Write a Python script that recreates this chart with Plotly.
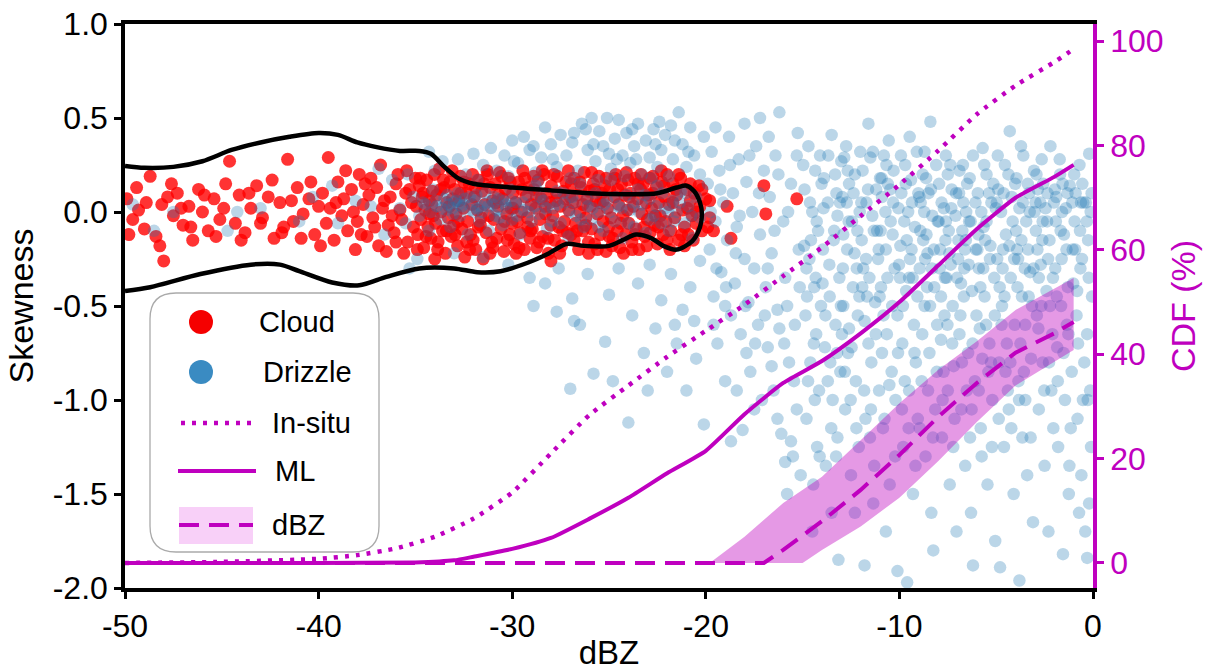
import plotly.graph_objects as go

# ---------------- data ----------------
cloud_pts = [
(-49.9,0.07),(-49.6,-0.04),(-49.3,0.01),(-49.0,-0.09),(-48.7,0.19),(-48.4,-0.13),(-48.1,0.04),(-48.0,-0.26),(-47.8,0.08),(-47.5,-0.02),(-47.3,0.1),(-47.0,-0.07),(-46.7,0.03),(-46.5,-0.15),(-46.2,0.12),(-46.0,0.0),(-45.7,-0.1),(-45.4,0.07),(-45.1,-0.04),(-44.8,0.15),(-44.6,0.27),(-44.3,-0.06),(-44.1,0.09),(-43.8,-0.11),(-43.5,0.02),(-43.2,0.14),(-42.9,-0.03),(-42.6,0.08),(-42.3,-0.14),(-42.0,0.05),(-41.8,-0.08),(-41.6,0.28),(-41.3,-0.05),(-41.1,0.13),(-40.8,-0.01),(-40.5,0.07),(-40.2,-0.12),(-40.0,0.03),
(-49.8,-0.12),(-49.4,0.13),(-48.9,0.05),(-48.2,-0.18),(-47.6,0.15),(-47.1,0.02),(-46.6,-0.08),(-45.9,0.09),(-45.3,-0.13),(-44.9,0.02),(-44.0,-0.15),(-43.6,0.1),(-43.0,-0.06),(-42.4,0.17),(-41.9,-0.11),(-41.4,0.06),(-40.9,-0.14),(-40.4,0.16),
(-39.8,0.1),(-39.6,-0.06),(-39.5,0.29),(-39.4,0.02),(-39.2,-0.15),(-39.0,0.16),(-38.8,-0.02),(-38.7,0.07),(-38.5,-0.1),(-38.3,0.12),(-38.2,0.0),(-38.0,-0.05),(-37.9,0.2),(-37.7,0.04),(-37.5,-0.13),(-37.4,0.09),(-37.2,-0.03),(-37.0,0.13),(-36.9,-0.18),(-36.7,0.02),(-36.5,-0.21),(-36.4,-0.07),(-36.3,0.08),(-36.1,-0.11),(-36.0,0.15),(-35.8,0.01),(-35.7,-0.04),(-35.5,0.1),(-35.4,-0.16),(-35.2,0.05),(-35.1,-0.08),(-35.0,0.18),
(-39.9,-0.18),(-39.1,0.05),(-38.6,0.22),(-38.1,-0.2),(-37.6,0.15),(-37.1,-0.08),(-36.8,0.25),(-36.2,-0.02),(-35.9,0.2),(-35.6,-0.22),(-35.3,0.12),
(-34.95,0.03),(-34.88,-0.12),(-34.8,0.14),(-34.72,-0.04),(-34.65,0.08),(-34.57,-0.19),(-34.5,0.01),(-34.42,0.17),(-34.35,-0.08),(-34.28,0.06),(-34.2,-0.14),(-34.13,0.11),(-34.07,-0.02),(-34.02,0.2),
(-33.96,-0.06),(-33.9,0.09),(-33.83,-0.16),(-33.76,0.23),(-33.68,0.0),(-33.6,-0.1),(-33.52,0.13),(-33.45,-0.22),(-33.38,0.05),(-33.3,-0.03),(-33.22,0.16),(-33.15,-0.13),(-33.08,0.07),(-33.02,-0.07),
(-32.97,0.12),(-32.9,-0.01),(-32.82,-0.18),(-32.75,0.06),(-32.67,0.19),(-32.6,-0.09),(-32.52,0.02),(-32.45,-0.24),(-32.37,0.1),(-32.3,-0.05),(-32.22,0.15),(-32.15,-0.12),(-32.08,0.04),(-32.02,-0.15),
(-31.96,0.08),(-31.88,-0.2),(-31.8,0.01),(-31.73,0.17),(-31.65,-0.07),(-31.57,0.11),(-31.5,-0.25),(-31.42,0.04),(-31.35,-0.11),(-31.27,0.2),(-31.2,-0.02),(-31.13,0.13),(-31.06,-0.16),(-31.01,0.06),
(-30.95,-0.04),(-30.88,0.15),(-30.8,-0.14),(-30.73,0.03),(-30.65,0.21),(-30.57,-0.09),(-30.5,0.07),(-30.43,-0.21),(-30.35,0.12),(-30.28,-0.01),(-30.2,0.18),(-30.13,-0.12),(-30.06,0.02),(-30.01,-0.06),
(-29.97,0.1),(-29.9,-0.17),(-29.82,0.05),(-29.74,-0.05),(-29.67,0.16),(-29.6,-0.11),(-29.52,0.0),(-29.45,0.22),(-29.37,-0.2),(-29.3,0.08),(-29.22,-0.03),(-29.15,0.13),(-29.08,-0.14),(-29.02,0.04),
(-28.96,-0.09),(-28.88,0.12),(-28.8,0.02),(-28.73,-0.19),(-28.65,0.17),(-28.57,-0.04),(-28.5,0.07),(-28.43,-0.13),(-28.35,0.2),(-28.28,-0.01),(-28.2,0.1),(-28.13,-0.22),(-28.06,0.05),(-28.01,-0.07),
(-27.97,0.14),(-27.9,-0.02),(-27.82,-0.15),(-27.74,0.06),(-27.67,0.19),(-27.6,-0.08),(-27.52,0.03),(-27.45,-0.18),(-27.37,0.11),(-27.3,-0.05),(-27.22,0.16),(-27.15,-0.11),(-27.08,0.01),(-27.02,0.08),
(-26.96,-0.12),(-26.88,0.05),(-26.8,0.18),(-26.73,-0.06),(-26.65,0.09),(-26.57,-0.2),(-26.5,0.0),(-26.43,0.13),(-26.35,-0.1),(-26.28,0.21),(-26.2,-0.03),(-26.13,0.07),(-26.06,-0.16),(-26.01,0.11),
(-25.97,0.03),(-25.9,-0.09),(-25.82,0.15),(-25.74,-0.17),(-25.67,0.06),(-25.6,-0.01),(-25.52,0.19),(-25.45,-0.12),(-25.37,0.1),(-25.3,-0.05),(-25.22,0.14),(-25.15,-0.21),(-25.08,0.02),(-25.02,-0.08),
(-24.96,0.12),(-24.88,-0.03),(-24.8,-0.14),(-24.73,0.08),(-24.65,0.2),(-24.57,-0.1),(-24.5,0.04),(-24.43,-0.19),(-24.35,0.15),(-24.28,-0.02),(-24.2,0.09),(-24.13,-0.12),(-24.06,0.01),(-24.01,0.17),
(-23.97,-0.06),(-23.9,0.1),(-23.82,-0.16),(-23.74,0.03),(-23.67,0.18),(-23.6,-0.09),(-23.52,0.07),(-23.45,-0.2),(-23.37,0.12),(-23.3,-0.01),(-23.22,0.15),(-23.15,-0.13),(-23.08,0.05),(-23.02,-0.04),
(-22.96,0.09),(-22.88,-0.11),(-22.8,0.02),(-22.73,0.19),(-22.65,-0.07),(-22.57,0.13),(-22.5,-0.17),(-22.43,0.05),(-22.35,-0.02),(-22.28,0.16),(-22.2,-0.12),(-22.13,0.08),(-22.06,-0.05),(-22.01,0.2),
(-34.9,-0.2),(-34.6,0.1),(-34.3,-0.01),(-34.0,-0.25),(-33.7,0.12),(-33.4,-0.1),(-33.1,0.22),(-32.8,-0.05),(-32.5,0.16),(-32.2,-0.2),(-31.9,0.13),(-31.6,-0.03),(-31.3,0.22),(-31.0,-0.19),(-30.7,0.09),(-30.4,-0.05),(-30.1,0.16),(-29.8,-0.22),(-29.5,0.12),(-29.2,-0.08),(-28.9,0.19),(-28.6,-0.16),(-28.3,0.03),(-28.0,-0.26),(-27.7,0.1),(-27.4,-0.1),(-27.1,0.22),(-26.8,-0.15),(-26.5,0.16),(-26.2,-0.07),(-25.9,0.21),(-25.6,-0.2),(-25.3,0.06),(-25.0,-0.13),(-24.7,0.18),(-24.4,-0.06),(-24.1,0.21),(-23.8,-0.2),(-23.5,0.15),(-23.2,-0.08),(-22.9,0.18),(-22.6,-0.02),(-22.3,0.22),(-22.0,-0.15),
(-37.8,-0.12),(-37.3,0.18),(-36.6,0.06),(-36.0,-0.16),(-35.45,0.22),(-34.75,0.18),(-34.45,-0.13),(-34.15,0.04),(-33.85,-0.2),(-33.55,0.17),(-33.25,0.03),(-32.95,-0.12),(-32.65,0.1),(-32.35,-0.16),(-32.05,0.2),(-31.75,-0.08),(-31.45,0.15),(-31.15,-0.22),(-30.85,0.05),(-30.55,0.19),(-30.25,-0.15),(-29.95,0.02),(-29.65,-0.19),(-29.35,0.18),(-29.05,-0.1),(-28.75,0.08),(-28.45,0.22),(-28.15,-0.14),(-27.85,0.2),(-27.55,-0.22),(-27.25,0.07),(-26.95,0.15),(-26.65,-0.1),(-26.35,0.04),(-26.05,-0.22),(-25.75,0.12),(-25.45,0.05),(-25.15,0.18),(-24.85,-0.18),(-24.55,0.12),(-24.25,-0.22),(-23.95,0.08),(-23.65,-0.12),(-23.35,0.2),(-23.05,-0.18),(-22.75,0.1),(-22.45,-0.08),(-22.15,0.14),(-21.85,-0.2),(-21.55,0.12),(-21.25,-0.12),(-20.95,0.02),(-20.65,-0.15),(-20.35,0.14),
(-21.9,0.04),(-21.8,-0.1),(-21.7,0.15),(-21.6,-0.03),(-21.5,0.09),(-21.4,-0.15),(-21.3,0.18),(-21.2,0.01),(-21.1,-0.08),(-21.0,0.12),(-20.9,-0.12),(-20.8,0.06),(-20.7,-0.02),(-20.6,0.1),(-20.5,-0.06),(-20.3,0.03),(-20.2,-0.1),(-20.0,0.07),(-19.8,-0.03),
(-21.7,0.05),(-21.4,0.2),(-21.1,-0.18),(-20.8,0.15),(-20.5,0.0),(-20.2,0.12),(-19.9,-0.08),
(-19.6,-0.1),(-19.8,0.06),(-18.9,0.03),(-18.7,-0.14),(-17.0,0.14),(-16.9,-0.01),(-15.3,0.07),
]

drizzle_pts = [
(-49.6,0.04),(-47.5,0.0),(-48.5,-0.1),(-44.7,-0.1),(-44.2,0.0),(-41.0,-0.05),(-39.3,0.14),(-43.0,0.02),(-40.3,0.08),(-39.0,-0.06),(-38.1,0.06),(-37.3,0.03),(-36.6,-0.12),(-36.2,0.17),
(-35.8,0.02),(-35.5,-0.06),(-35.1,0.08),(-34.8,-0.02),(-34.6,0.05),(-34.3,-0.1),(-34.1,0.12),
(-33.9,0.03),(-33.7,-0.04),(-33.5,0.07),(-33.4,0.01),(-33.2,-0.08),(-33.0,0.05),(-32.8,0.1),(-32.7,-0.02),(-32.5,0.04),(-32.3,-0.12),(-32.2,0.08),(-32.0,0.0),
(-31.9,0.06),(-31.7,-0.05),(-31.6,0.03),(-31.4,0.1),(-31.2,-0.1),(-31.0,0.04),(-30.9,-0.02),(-30.7,0.07),(-30.5,-0.07),(-30.3,0.02),(-30.1,0.12),(-30.0,-0.04),
(-33.3,0.04),(-33.1,0.02),(-32.9,0.06),(-32.6,0.03),(-31.8,0.02),(-31.3,0.05),(-30.8,0.01),(-30.4,0.06),
(-29.8,0.05),(-29.6,-0.12),(-29.4,0.01),(-29.2,0.09),(-29.0,-0.05),(-28.8,0.14),(-28.6,-0.01),(-28.4,0.06),(-28.2,-0.09),
(-27.9,0.02),(-27.7,0.11),(-27.5,-0.06),(-27.3,0.05),(-27.1,-0.13),(-26.9,0.08),(-26.7,-0.02),(-26.5,0.15),(-26.3,-0.08),(-26.1,0.03),
(-25.9,-0.04),(-25.7,0.1),(-25.5,0.0),(-25.3,-0.1),(-25.1,0.06),(-24.9,0.17),(-24.7,-0.05),(-24.5,0.03),(-24.3,-0.14),(-24.1,0.09),
(-23.9,0.01),(-23.7,-0.08),(-23.5,0.12),(-23.3,0.04),(-23.1,-0.11),(-22.9,0.07),(-22.7,-0.02),(-22.5,0.14),(-22.3,-0.06),(-22.1,0.02),
(-21.9,-0.1),(-21.7,0.06),(-21.5,0.0),(-21.3,0.11),(-21.1,-0.06),(-20.9,0.03),(-20.7,-0.14),(-20.5,0.08),(-20.3,-0.03),
(-34.5,0.04),(-34.2,0.0),(-33.95,0.06),(-33.65,0.02),(-33.35,0.09),(-33.05,-0.01),(-32.75,0.04),(-32.45,0.07),(-32.15,0.01),(-31.85,0.09),(-31.55,0.0),(-31.25,0.03),(-30.95,0.08),(-30.65,-0.03),(-30.35,0.04),(-30.05,0.06),(-29.75,-0.02),(-29.45,0.05),(-29.15,0.0),(-28.85,0.03),(-28.55,0.08),(-28.25,0.02),(-27.95,-0.05),(-27.65,0.04),(-27.35,0.1),(-27.05,0.0),(-26.75,0.05),(-26.45,-0.04),(-26.15,0.07),(-25.85,0.02),(-25.55,-0.08),(-25.25,0.04),(-24.95,0.0),(-24.65,0.08),(-24.35,0.02),(-24.05,-0.06),(-23.75,0.05),(-23.45,0.0),(-23.15,0.09),(-22.85,-0.04),(-22.55,0.03),(-22.25,0.1),(-21.95,0.0),(-21.65,-0.05),(-21.35,0.05),(-21.05,0.1),(-20.75,-0.02),
(-36.9,0.23),(-35.4,0.2),(-34.3,0.32),(-34.0,0.22),(-33.6,0.27),(-32.8,0.28),(-32.4,0.2),(-32.0,0.31),(-31.5,0.25),(-31.1,0.34),(-30.8,0.22),(-30.4,0.3),(-30.0,0.38),(-29.7,0.26),(-29.4,0.4),(-29.1,0.33),(-28.8,0.21),(-28.5,0.29),(-28.3,0.45),(-28.0,0.36),(-27.7,0.24),(-27.5,0.41),(-27.2,0.3),(-26.9,0.37),(-26.6,0.22),(-26.4,0.47),(-26.1,0.33),(-25.9,0.5),(-25.7,0.27),(-25.5,0.43),(-25.3,0.35),(-25.1,0.5),(-24.9,0.23),(-24.7,0.39),(-24.5,0.49),(-24.3,0.3),(-24.1,0.42),(-23.9,0.26),(-23.7,0.35),(-23.5,0.47),(-23.3,0.2),(-23.1,0.38),(-22.9,0.29),(-22.7,0.44),(-22.5,0.24),(-22.3,0.33),(-22.1,0.41),(-21.9,0.19),(-21.7,0.28),(-21.4,0.53),(-21.2,0.36),(-21.0,0.24),(-20.8,0.45),(-20.6,0.3),(-20.3,0.2),(-20.1,0.4),
(-31.8,0.17),(-30.2,0.19),(-28.7,0.16),(-27.0,0.18),(-25.6,0.17),(-24.2,0.19),(-22.8,0.18),(-26.2,0.44),(-25.0,0.31),(-23.6,0.28),(-22.4,0.48),(-21.6,0.38),
(-29.9,0.27),(-28.9,0.35),(-27.9,0.28),(-26.8,0.42),(-25.8,0.36),(-24.6,0.28),(-23.8,0.44),(-22.6,0.36),(-21.8,0.46),(-20.9,0.32),
(-34.9,-0.25),(-35.3,-0.3),(-33.0,-0.22),(-31.5,-0.24),(-30.2,-0.28),(-29.1,-0.35),(-28.3,-0.38),(-27.7,-0.53),(-27.6,-0.3),(-26.9,-0.46),(-26.1,-0.33),(-26.5,-0.6),(-25.8,-0.86),(-25.0,-0.44),(-25.2,-0.69),(-24.8,-0.9),(-24.5,-0.3),(-24.0,-1.12),(-23.8,-0.55),(-23.5,-0.38),(-23.2,-0.75),(-22.9,-0.28),(-22.6,-0.62),(-22.3,-0.47),(-22.0,-0.85),(-21.8,-0.33),(-21.5,-0.7),(-21.2,-0.52),(-21.0,-0.95),(-20.8,-0.4),(-20.5,-0.78),(-20.3,-0.26),(-20.1,-1.13),(-27.0,-0.94),(-26.8,-0.58),(-28.9,-0.5),(-23.0,-0.95),(-21.6,-0.6),(-20.6,-0.58),
(-19.9,0.15),(-19.8,-0.2),(-19.7,0.32),(-19.6,-0.45),(-19.5,-0.05),(-19.4,-0.7),(-19.3,0.22),(-19.2,-0.32),(-19.1,0.05),(-19.0,-0.9),(-18.9,-0.15),(-18.8,0.4),(-18.7,-0.55),(-18.7,-1.22),(-18.6,0.1),(-18.5,-0.38),(-18.4,-0.08),(-18.3,0.28),(-18.2,-0.65),(-18.1,-1.16),(-18.0,-0.25),(-17.9,0.16),(-17.8,-0.48),(-17.7,-0.85),(-17.6,0.0),(-17.5,-0.3),(-17.4,0.35),(-17.3,-0.6),(-17.2,-0.12),(-17.1,-1.0),(-17.0,0.22),(-16.9,-0.4),(-16.8,-0.72),(-16.7,0.08),(-16.6,-0.22),(-16.5,-0.95),(-16.4,0.3),(-16.3,-0.52),(-16.2,0.53),(-16.1,-1.18),(-16.0,-0.05),(-15.9,-0.35),(-15.8,-1.5),(-15.7,-0.8),(-15.6,0.15),(-15.5,-1.3),(-15.4,-0.6),(-15.3,-1.05),(-15.2,-0.2),(-15.1,-1.4),(-15.6,-1.22),(-15.9,-1.33),(-16.3,-1.1),(-19.5,0.45),(-18.0,0.47),(-17.2,0.5),(-19.0,-0.5),(-17.9,-0.75),(-16.6,-0.82),(-16.2,-0.62),(-19.6,-0.6),(-18.4,-0.95),(-17.5,-1.05),(-16.8,-0.3),(-15.8,-0.5),(-15.3,0.3),
(-19.75,0.0),(-19.25,0.12),(-18.75,0.25),(-18.25,-0.02),(-17.75,0.3),(-17.25,0.1),(-16.75,0.4),(-16.25,0.2),(-15.75,0.0),(-15.25,0.42),(-19.45,-0.3),(-18.95,-0.4),(-18.45,-0.22),(-17.95,-0.5),(-17.45,-0.7),(-16.95,-0.55),(-16.45,-0.1),(-15.95,-0.7),(-15.45,-0.9),(-15.15,-0.4),
(-14.9,0.12),(-14.85,-0.55),(-14.8,-1.1),(-14.7,0.35),(-14.65,-0.25),(-14.6,-0.8),(-14.5,0.0),(-14.45,-1.45),(-14.4,-0.4),(-14.35,0.22),(-14.3,-0.65),(-14.25,-1.25),(-14.2,-0.1),(-14.15,-0.95),(-14.1,0.3),(-14.05,-0.5),(-14.5,-1.7),(-14.8,-0.3),
(-13.95,-0.2),(-13.9,0.18),(-13.85,-0.72),(-13.8,-1.35),(-13.7,0.05),(-13.6,-0.45),(-13.5,0.41),(-13.45,-1.0),(-13.4,-0.15),(-13.3,-0.6),(-13.25,0.1),(-13.2,-1.2),(-13.1,-0.35),(-13.05,-0.85),(-13.0,0.27),(-13.5,-1.6),(-13.2,-0.02),(-13.7,-0.9),(-13.15,-1.85),
(-12.95,0.08),(-12.9,-0.5),(-12.85,0.29),(-12.8,-1.05),(-12.7,-0.2),(-12.65,-0.75),(-12.6,0.15),(-12.5,-1.4),(-12.45,-0.05),(-12.4,-0.4),(-12.3,0.2),(-12.25,-0.9),(-12.2,-0.3),(-12.1,-1.25),(-12.05,0.0),(-12.6,-0.62),(-12.3,-1.6),(-12.9,-0.12),(-12.15,-0.55),(-12.75,0.35),
(-11.95,-0.15),(-11.9,0.22),(-11.8,-0.58),(-11.8,-1.88),(-11.75,-1.1),(-11.7,0.05),(-11.6,0.47),(-11.55,-0.35),(-11.5,0.29),(-11.45,-0.8),(-11.4,-0.02),(-11.3,-1.35),(-11.25,-0.48),(-11.2,0.12),(-11.1,-0.25),(-11.05,-0.95),(-11.0,0.18),(-11.6,-0.7),(-11.35,-1.55),(-11.15,-0.1),
(-10.95,-0.4),(-10.9,0.08),(-10.85,-1.15),(-10.8,0.3),(-10.7,-0.2),(-10.65,-0.65),(-10.6,0.15),(-10.5,-1.45),(-10.45,-0.05),(-10.4,-0.85),(-10.3,0.22),(-10.25,-0.3),(-10.2,-1.0),(-10.1,-0.55),(-10.1,-1.91),(-10.05,0.02),(-10.7,-1.7),(-10.35,-0.12),(-10.9,-0.75),(-10.55,0.38),
(-9.95,-0.18),(-9.9,0.1),(-9.85,-0.7),(-9.8,-1.25),(-9.7,0.25),(-9.65,-0.42),(-9.6,-1.97),(-9.55,0.0),(-9.5,-0.95),(-9.45,-0.25),(-9.4,0.17),(-9.3,-1.5),(-9.25,-0.6),(-9.2,-0.08),(-9.1,0.32),(-9.05,-1.1),(-9.5,-0.35),(-9.15,-0.8),(-9.75,-0.05),(-9.35,0.05),
(-8.95,-0.3),(-8.9,0.05),(-8.85,-0.9),(-8.8,0.2),(-8.7,-0.5),(-8.65,-1.3),(-8.6,-0.12),(-8.5,0.1),(-8.45,-0.75),(-8.4,0.48),(-8.35,-1.6),(-8.3,-0.02),(-8.2,-0.4),(-8.15,-1.05),(-8.1,0.25),(-8.05,-0.6),(-8.7,0.32),(-8.55,-0.22),(-8.25,-1.8),(-8.95,-1.15),
(-7.95,0.15),(-7.9,-0.2),(-7.85,-0.68),(-7.8,-1.2),(-7.7,0.02),(-7.65,-0.35),(-7.6,0.3),(-7.5,-0.95),(-7.45,-0.1),(-7.4,-1.45),(-7.3,0.12),(-7.25,-0.5),(-7.2,-0.82),(-7.1,-0.02),(-7.05,-1.7),(-7.5,0.2),(-7.35,-0.28),(-7.15,-1.1),(-7.85,-0.45),(-7.6,-0.05),
(-6.95,-0.15),(-6.9,0.22),(-6.85,-0.55),(-6.8,-1.05),(-6.7,0.05),(-6.65,-0.3),(-6.6,-1.35),(-6.5,0.15),(-6.45,-0.75),(-6.4,-0.05),(-6.3,-1.6),(-6.25,-0.42),(-6.2,0.3),(-6.2,-1.88),(-6.1,-0.9),(-6.05,-0.2),(-6.75,-0.1),(-6.55,0.0),(-6.35,-1.2),(-6.9,-0.65),
(-5.95,0.1),(-5.9,-0.3),(-5.85,-0.62),(-5.8,-1.15),(-5.7,0.34),(-5.65,-0.08),(-5.6,-0.45),(-5.5,0.2),(-5.45,-1.45),(-5.4,-0.85),(-5.3,-0.18),(-5.25,0.05),(-5.2,-1.0),(-5.1,-0.35),(-5.05,-1.75),(-5.5,-0.05),(-5.35,-0.7),(-5.75,-1.3),(-5.15,0.15),(-5.9,-0.95),
(-4.95,-0.25),(-4.9,0.12),(-4.8,-1.89),(-4.85,-0.8),(-4.75,0.0),(-4.7,-0.5),(-4.6,-1.25),(-4.55,0.25),(-4.5,-0.12),(-4.45,-0.7),(-4.3,0.43),(-4.35,-1.05),(-4.25,-0.35),(-4.2,0.08),(-4.1,-1.5),(-4.05,-0.6),(-3.8,-1.96),(-4.65,-0.2),(-4.4,-0.95),(-4.15,-0.05),
(-3.95,0.18),(-3.9,-0.4),(-3.85,-0.9),(-3.8,0.02),(-3.7,-0.15),(-3.65,-1.2),(-3.6,0.3),(-3.5,-0.6),(-3.45,-0.05),(-3.4,-1.4),(-3.3,0.1),(-3.25,-0.32),(-3.2,-0.78),(-3.1,-1.65),(-3.05,0.22),(-3.5,-1.0),(-3.35,-0.2),(-3.15,-0.5),(-3.75,-0.7),
(-2.95,-0.1),(-2.9,-0.55),(-2.85,0.12),(-2.8,-1.05),(-2.7,-0.28),(-2.65,0.28),(-2.6,-0.8),(-2.5,-1.35),(-2.45,0.02),(-2.4,-0.42),(-2.3,-1.7),(-2.25,-0.15),(-2.2,0.35),(-2.1,-0.65),(-2.05,-1.15),(-2.6,-0.05),(-2.35,0.1),(-2.15,-0.95),(-2.8,-0.35),
(-1.95,-0.3),(-1.9,0.08),(-1.85,-0.72),(-1.8,-1.25),(-1.7,0.2),(-1.65,-0.5),(-1.55,-1.82),(-1.5,-0.12),(-1.45,-1.0),(-1.4,0.02),(-1.3,-0.4),(-1.25,-1.5),(-1.2,0.14),(-1.1,-0.85),(-1.05,-0.2),(-1.6,0.0),(-1.35,-0.6),(-1.15,-1.15),
(-0.95,-0.05),(-0.9,0.1),(-0.85,-0.55),(-0.8,-1.1),(-0.7,0.25),(-0.65,-0.3),(-0.6,-1.4),(-0.5,0.05),(-0.45,-0.8),(-0.4,-1.7),(-0.3,-1.84),(-0.25,-0.15),(-0.2,0.31),(-0.15,-0.95),(-0.1,-1.25),(-0.05,-0.45),(-0.3,-0.65),(-0.55,0.15),(-0.2,-1.55),
(-14.92,-0.18),(-14.62,0.05),(-14.32,-0.35),(-14.02,0.15),(-14.72,-0.9),(-14.42,-0.7),(-14.12,-1.3),
(-13.92,0.02),(-13.62,-0.28),(-13.32,0.2),(-13.02,-0.5),(-13.82,-0.55),(-13.52,-1.15),(-13.22,-0.75),
(-12.92,-0.3),(-12.62,-0.05),(-12.32,-0.22),(-12.02,0.32),(-12.82,-0.85),(-12.52,-1.0),(-12.22,-1.15),(-12.72,0.05),
(-11.92,-0.4),(-11.62,0.12),(-11.32,-0.1),(-11.02,-0.45),(-11.82,-0.95),(-11.52,-1.2),(-11.22,-0.65),(-11.72,-0.25),
(-10.92,0.18),(-10.62,-0.35),(-10.32,0.05),(-10.02,-0.28),(-10.82,-0.55),(-10.52,-0.92),(-10.22,-1.3),(-10.72,0.0),
(-9.92,0.3),(-9.62,-0.15),(-9.32,-0.35),(-9.02,0.1),(-9.82,-0.5),(-9.52,-1.15),(-9.22,-0.75),(-9.72,-0.9),
(-8.92,-0.1),(-8.62,0.18),(-8.32,-0.3),(-8.02,-0.05),(-8.82,-0.65),(-8.52,-0.95),(-8.22,-0.2),(-8.72,0.0),(-8.42,-0.5),
(-7.92,-0.3),(-7.62,-0.15),(-7.32,0.02),(-7.02,-0.35),(-7.82,0.05),(-7.52,-0.6),(-7.22,-1.25),(-7.72,-0.85),(-7.42,-0.22),
(-6.92,0.1),(-6.62,-0.2),(-6.32,-0.05),(-6.02,-0.55),(-6.82,-0.38),(-6.52,-0.95),(-6.22,-0.7),(-6.72,0.25),(-6.42,-0.28),
(-5.92,-0.12),(-5.62,0.25),(-5.32,-0.25),(-5.02,0.02),(-5.82,-0.4),(-5.52,-0.6),(-5.22,-1.25),(-5.72,-0.78),
(-4.92,0.3),(-4.62,0.1),(-4.32,-0.18),(-4.02,0.15),(-4.82,-0.4),(-4.52,-0.85),(-4.22,-1.15),(-4.72,-0.6),
(-3.92,-0.2),(-3.62,0.05),(-3.32,-0.45),(-3.02,0.0),(-3.82,-1.0),(-3.52,-0.3),(-3.22,-1.2),(-3.72,0.35),
(-2.92,0.2),(-2.62,-0.15),(-2.32,-0.25),(-2.02,0.05),(-2.82,-0.62),(-2.52,-0.95),(-2.22,-0.5),(-2.72,0.05),
(-1.92,-0.05),(-1.62,-0.25),(-1.32,0.1),(-1.02,-0.38),(-1.82,-0.9),(-1.52,-0.75),(-1.22,-1.35),(-1.72,0.28),
(-0.92,-0.2),(-0.62,0.05),(-0.32,-0.05),(-0.12,0.0),(-0.82,-0.42),(-0.52,-1.0),(-0.22,-0.35),(-0.72,-1.6),
(-14.97,0.25),(-14.57,-0.15),(-14.27,-0.05),(-14.77,-0.45),(-14.37,-1.0),
(-13.97,-0.38),(-13.67,0.3),(-13.37,-0.1),(-13.07,0.05),(-13.57,-0.8),(-13.27,-1.3),
(-12.97,-0.65),(-12.67,0.22),(-12.37,0.1),(-12.07,-0.45),(-12.47,-0.72),(-12.17,-0.1),
(-11.97,0.05),(-11.67,-0.45),(-11.37,0.32),(-11.07,-0.2),(-11.47,-1.05),(-11.87,-0.3),
(-10.97,-0.1),(-10.67,0.25),(-10.37,-0.5),(-10.07,-0.75),(-10.47,0.12),(-10.77,-1.1),
(-9.97,-0.35),(-9.67,0.15),(-9.37,-0.2),(-9.07,-0.45),(-9.47,0.4),(-9.87,-1.05),(-9.17,-1.35),
(-8.97,0.08),(-8.67,-0.25),(-8.37,0.12),(-8.07,-0.85),(-8.57,-0.4),(-8.27,-1.2),(-8.77,-0.15),
(-7.97,-0.05),(-7.67,-0.55),(-7.37,0.25),(-7.07,0.1),(-7.57,-0.35),(-7.27,-0.7),(-7.77,-1.0),
(-6.97,-0.25),(-6.67,-0.45),(-6.37,0.18),(-6.07,0.05),(-6.57,-0.15),(-6.27,-1.05),(-6.77,-0.8),
(-5.97,-0.2),(-5.67,-0.3),(-5.37,0.1),(-5.07,-0.55),(-5.57,-0.15),(-5.27,-0.8),(-5.77,0.0),
(-4.97,0.05),(-4.67,-0.3),(-4.37,0.2),(-4.07,-0.25),(-4.57,-0.45),(-4.27,-0.8),(-4.87,-1.1),
(-3.97,-0.1),(-3.67,-0.45),(-3.37,0.15),(-3.07,-0.3),(-3.57,-0.85),(-3.27,0.0),(-3.87,-0.25),
(-2.97,0.05),(-2.67,-0.5),(-2.37,-0.05),(-2.07,-0.35),(-2.57,0.15),(-2.27,-0.8),(-2.87,-0.2),
(-1.97,0.12),(-1.67,-0.1),(-1.37,-0.2),(-1.07,0.05),(-1.57,0.15),(-1.27,-0.65),(-1.87,-0.45),
(-0.97,0.2),(-0.67,-0.1),(-0.37,0.05),(-0.07,0.1),(-0.57,-0.25),(-0.27,-1.0),(-0.77,-0.7),
]

cloud_x = [p[0] for p in cloud_pts]
cloud_y = [p[1] for p in cloud_pts]
drizzle_x = [p[0] for p in drizzle_pts]
drizzle_y = [p[1] for p in drizzle_pts]

contour_x = [-50,-49,-47.5,-46,-44.5,-43,-41.5,-40,-39,-38,-37,-35.8,-34.8,-34.2,-33.5,-32.8,-32,-30,-28,-26,-24,-22.5,-21.5,-21.0,-20.6,-20.3,-20.2,-20.3,-20.7,-21.5,-22.2,-22.8,-23.6,-24.3,-25.0,-26.3,-27.2,-28.2,-29.2,-30.6,-31.8,-33.0,-34.8,-36.5,-37.9,-39.3,-41,-42,-43.5,-46.1,-48.7,-50]
contour_y = [0.245,0.235,0.24,0.27,0.33,0.37,0.4,0.42,0.41,0.37,0.345,0.325,0.325,0.31,0.24,0.18,0.15,0.13,0.115,0.1,0.095,0.1,0.13,0.14,0.11,0.05,-0.01,-0.08,-0.155,-0.2,-0.18,-0.14,-0.12,-0.15,-0.18,-0.18,-0.17,-0.225,-0.27,-0.315,-0.32,-0.3,-0.3,-0.345,-0.39,-0.375,-0.315,-0.28,-0.28,-0.33,-0.40,-0.42]

insitu_x = [-50,-45,-40,-38,-36,-34,-32,-30,-28,-26,-24,-22,-20,-18,-16,-14,-12,-10,-8,-6,-4,-2,-1]
insitu_cdf = [0,0.2,0.8,1.5,2.8,5,8.5,13.5,21,28.4,34,39.5,44.5,49.5,55,60.5,66.5,72.5,79,86,91.5,96,98.5]

ml_x = [-50,-40,-35,-33,-32,-30,-28,-26,-24,-22,-20,-18,-16,-14,-12,-10,-8,-6,-4,-2,-1]
ml_cdf = [0,0,0.1,0.5,1.2,2.7,4.8,8.5,12.5,17.2,21.5,28.5,34.5,38.7,44,50,57,64,70,74,76.3]

dbz_x = [-50,-17,-16,-15,-14,-12,-10,-8,-6,-4,-2,-1]
dbz_cdf = [0,0,2.5,5.3,8,14,20.7,28,34.5,40.3,44,46.2]

band_upper_x = [-19.8,-18,-16,-14,-12,-10,-8,-6,-4,-2,-1]
band_upper = [0,5,11.5,16.5,23.5,30.6,37,42.5,48.5,52.5,54.6]
band_lower_x = [-19.8,-15,-14,-12,-10,-8,-6,-4,-2,-1]
band_lower = [0,0,2.5,7,12.5,19.5,27,34,38.5,40.8]

x_ticks = [-50,-40,-30,-20,-10,0]
y_ticks = [-2.0,-1.5,-1.0,-0.5,0.0,0.5,1.0]
cdf_ticks = [0,20,40,60,80,100]

# ---------------- style ----------------
MAG = "#BF00BF"
FONT = "Liberation Sans, Arial, Helvetica, sans-serif"
W, H = 1211, 671
ML_, MR_, MT_, MB_ = 125, 118, 24, 83
PW, PH = W - ML_ - MR_, H - MT_ - MB_

def px(x):
    return (x - ML_) / PW

def py(y):
    return (H - MB_ - y) / PH

fig = go.Figure()

fig.add_trace(go.Scatter(x=cloud_x, y=cloud_y, mode="markers", name="Cloud",
                         marker=dict(color="red", size=13, opacity=0.8, line=dict(width=0)),
                         showlegend=False, yaxis="y"))
fig.add_trace(go.Scatter(x=drizzle_x, y=drizzle_y, mode="markers", name="Drizzle",
                         marker=dict(color="#1f77b4", size=12.5, opacity=0.3, line=dict(width=0)),
                         showlegend=False, yaxis="y"))
fig.add_trace(go.Scatter(x=contour_x, y=contour_y, mode="lines",
                         line=dict(color="black", width=4.5, shape="spline", smoothing=0.8),
                         showlegend=False, yaxis="y"))

fig.add_trace(go.Scatter(x=band_upper_x + band_lower_x[::-1], y=band_upper + band_lower[::-1],
                         mode="lines", fill="toself", fillcolor="rgba(191,0,191,0.4)",
                         line=dict(width=0), showlegend=False, yaxis="y2"))
fig.add_trace(go.Scatter(x=insitu_x, y=insitu_cdf, mode="lines", name="In-situ",
                         line=dict(color=MAG, width=4.5, dash="4px,7px", shape="spline", smoothing=0.5),
                         showlegend=False, yaxis="y2"))
fig.add_trace(go.Scatter(x=ml_x, y=ml_cdf, mode="lines", name="ML",
                         line=dict(color=MAG, width=4, shape="spline", smoothing=0.5),
                         showlegend=False, yaxis="y2"))
fig.add_trace(go.Scatter(x=dbz_x, y=dbz_cdf, mode="lines", name="dBZ",
                         line=dict(color=MAG, width=4, dash="20px,10px"),
                         showlegend=False, yaxis="y2"))

# ---------------- hand-built legend ----------------
bx0, bx1, by0, by1, r = 150, 379, 293, 552, 26
X0, X1, Y0, Y1 = px(bx0), px(bx1), py(by0), py(by1)
rx, ry = r / PW, r / PH
legend_path = (f"M {X0+rx},{Y0} L {X1-rx},{Y0} Q {X1},{Y0} {X1},{Y0-ry} "
               f"L {X1},{Y1+ry} Q {X1},{Y1} {X1-rx},{Y1} L {X0+rx},{Y1} "
               f"Q {X0},{Y1} {X0},{Y1+ry} L {X0},{Y0-ry} Q {X0},{Y0} {X0+rx},{Y0} Z")
shapes = [
    dict(type="path", xref="paper", yref="paper", path=legend_path,
         fillcolor="rgba(255,255,255,0.85)", line=dict(color="#aaaaaa", width=1.3)),
    dict(type="circle", xref="paper", yref="paper", x0=px(189), x1=px(213), y0=py(334), y1=py(310),
         fillcolor="#f50000", line=dict(width=0)),
    dict(type="circle", xref="paper", yref="paper", x0=px(189), x1=px(213), y0=py(384), y1=py(360),
         fillcolor="#3a8bc2", line=dict(width=0)),
    dict(type="line", xref="paper", yref="paper", x0=px(181), x1=px(255), y0=py(423), y1=py(423),
         line=dict(color=MAG, width=4.5, dash="4px,7px")),
    dict(type="line", xref="paper", yref="paper", x0=px(178), x1=px(256), y0=py(471), y1=py(471),
         line=dict(color=MAG, width=4)),
    dict(type="rect", xref="paper", yref="paper", x0=px(179), x1=px(253), y0=py(544), y1=py(507),
         fillcolor="#f8d0f8", line=dict(width=0)),
    dict(type="line", xref="paper", yref="paper", x0=px(179), x1=px(253), y0=py(525), y1=py(525),
         line=dict(color=MAG, width=4, dash="20px,10px")),
]
legend_labels = [("Cloud", 257, 322), ("Drizzle", 261, 372), ("In-situ", 270, 423),
                 ("ML", 273, 471), ("dBZ", 270, 525)]
annotations = [dict(text=t, x=px(lx), y=py(ly), xref="paper", yref="paper", showarrow=False,
                    xanchor="left", yanchor="middle", font=dict(size=29, color="black", family=FONT))
               for t, lx, ly in legend_labels]

fig.update_layout(
    width=W, height=H, autosize=False,
    margin=dict(l=ML_, r=MR_, t=MT_, b=MB_, pad=0),
    plot_bgcolor="white", paper_bgcolor="white",
    font=dict(family=FONT, size=32, color="black"),
    showlegend=False,
    shapes=shapes, annotations=annotations,
    xaxis=dict(range=[-50, 0], tickvals=x_ticks, ticktext=[str(v) for v in x_ticks],
               showline=True, linecolor="black", linewidth=3.5, mirror=True,
               ticks="outside", ticklen=7, tickwidth=3, tickcolor="black",
               showgrid=False, zeroline=False, automargin=False,
               title=dict(text="dBZ", font=dict(size=33), standoff=10)),
    yaxis=dict(range=[-2, 1], tickvals=y_ticks, ticktext=[f"{v:.1f}" for v in y_ticks],
               showline=True, linecolor="black", linewidth=3.5,
               ticks="outside", ticklen=7, tickwidth=3, tickcolor="black",
               showgrid=False, zeroline=False, automargin=False,
               title=dict(text="Skewness", font=dict(size=34), standoff=10)),
    yaxis2=dict(range=[-4.8, 103.3], overlaying="y", side="right", tickvals=cdf_ticks,
                ticktext=[str(v) for v in cdf_ticks],
                showline=True, linecolor=MAG, linewidth=3.5,
                ticks="outside", ticklen=7, tickwidth=3, tickcolor=MAG,
                tickfont=dict(color=MAG), showgrid=False, zeroline=False, automargin=False,
                title=dict(text="CDF (%)", font=dict(size=34, color=MAG), standoff=10)),
)

fig.write_html("out.html")
